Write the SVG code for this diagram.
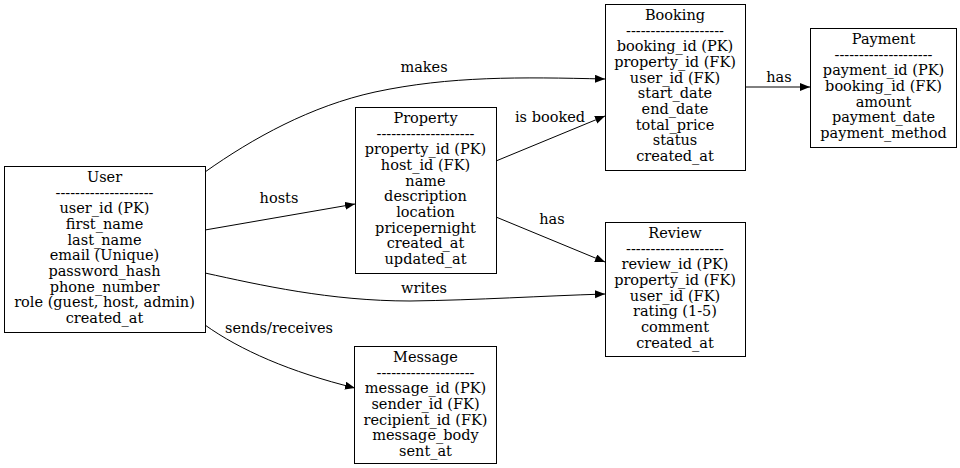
<svg xmlns="http://www.w3.org/2000/svg" width="960" height="468" viewBox="0 0 960 468">
<defs>
<style>
.box{fill:#fff;stroke:#000;stroke-width:1}
.t{font-family:"DejaVu Serif",serif;font-size:14.5px;text-anchor:middle;fill:#000}
.e{fill:none;stroke:#000;stroke-width:1}
</style>
<marker id="ah" markerUnits="userSpaceOnUse" markerWidth="11" markerHeight="9" refX="10" refY="4" orient="auto">
<path d="M0,0 L10,4 L0,8 Z" fill="#000"/>
</marker>
</defs>
<rect width="960" height="468" fill="#fff"/>
<g id="connectors">
<path class="e" d="M205,172 C253,138 311,106 375,92 C450,76 520,77 605,79" marker-end="url(#ah)"/>
<text class="t" x="424" y="72">makes</text>
<path class="e" d="M205,230 L355,204" marker-end="url(#ah)"/>
<text class="t" x="279" y="203">hosts</text>
<path class="e" d="M205,273 C260,285 330,301 410,301 C480,300 540,296 605,294" marker-end="url(#ah)"/>
<text class="t" x="424" y="293">writes</text>
<path class="e" d="M205,325 C240,350 290,372 355,388" marker-end="url(#ah)"/>
<text class="t" x="279" y="333">sends/receives</text>
<path class="e" d="M496,161 L605,116" marker-end="url(#ah)"/>
<text class="t" x="550" y="122">is booked</text>
<path class="e" d="M496,217 L605,262" marker-end="url(#ah)"/>
<text class="t" x="552" y="224">has</text>
<path class="e" d="M745,87 L810,87" marker-end="url(#ah)"/>
<text class="t" x="779" y="82">has</text>
</g>
<g id="User">
<rect class="box" x="4.5" y="166.5" width="201" height="166"/>
<text class="t" x="104.5" y="182">User</text>
<text class="t" x="104.5" y="197.7">--------------------</text>
<text class="t" x="104.5" y="213.3">user_id (PK)</text>
<text class="t" x="104.5" y="229">first_name</text>
<text class="t" x="104.5" y="244.7">last_name</text>
<text class="t" x="104.5" y="260.4">email (Unique)</text>
<text class="t" x="104.5" y="276">password_hash</text>
<text class="t" x="104.5" y="291.7">phone_number</text>
<text class="t" x="104.5" y="307.4">role (guest, host, admin)</text>
<text class="t" x="104.5" y="323">created_at</text>
</g>
<g id="Property">
<rect class="box" x="355.5" y="107.5" width="141" height="166"/>
<text class="t" x="425.5" y="123">Property</text>
<text class="t" x="425.5" y="138.7">--------------------</text>
<text class="t" x="425.5" y="154.3">property_id (PK)</text>
<text class="t" x="425.5" y="170">host_id (FK)</text>
<text class="t" x="425.5" y="185.7">name</text>
<text class="t" x="425.5" y="201.4">description</text>
<text class="t" x="425.5" y="217">location</text>
<text class="t" x="425.5" y="232.7">pricepernight</text>
<text class="t" x="425.5" y="248.4">created_at</text>
<text class="t" x="425.5" y="264">updated_at</text>
</g>
<g id="Booking">
<rect class="box" x="605.5" y="4.5" width="140" height="166"/>
<text class="t" x="675" y="20">Booking</text>
<text class="t" x="675" y="35.7">--------------------</text>
<text class="t" x="675" y="51.3">booking_id (PK)</text>
<text class="t" x="675" y="67">property_id (FK)</text>
<text class="t" x="675" y="82.7">user_id (FK)</text>
<text class="t" x="675" y="98.4">start_date</text>
<text class="t" x="675" y="114">end_date</text>
<text class="t" x="675" y="129.7">total_price</text>
<text class="t" x="675" y="145.4">status</text>
<text class="t" x="675" y="161">created_at</text>
</g>
<g id="Payment">
<rect class="box" x="810.5" y="28.5" width="146" height="119"/>
<text class="t" x="883.5" y="44">Payment</text>
<text class="t" x="883.5" y="59.7">--------------------</text>
<text class="t" x="883.5" y="75.3">payment_id (PK)</text>
<text class="t" x="883.5" y="91">booking_id (FK)</text>
<text class="t" x="883.5" y="106.7">amount</text>
<text class="t" x="883.5" y="122.4">payment_date</text>
<text class="t" x="883.5" y="138">payment_method</text>
</g>
<g id="Review">
<rect class="box" x="605.5" y="222.5" width="140" height="134"/>
<text class="t" x="675" y="238">Review</text>
<text class="t" x="675" y="253.7">--------------------</text>
<text class="t" x="675" y="269.3">review_id (PK)</text>
<text class="t" x="675" y="285">property_id (FK)</text>
<text class="t" x="675" y="300.7">user_id (FK)</text>
<text class="t" x="675" y="316.4">rating (1-5)</text>
<text class="t" x="675" y="332">comment</text>
<text class="t" x="675" y="347.7">created_at</text>
</g>
<g id="Message">
<rect class="box" x="354.5" y="346.5" width="142" height="117"/>
<text class="t" x="425.5" y="362">Message</text>
<text class="t" x="425.5" y="377.7">--------------------</text>
<text class="t" x="425.5" y="393.3">message_id (PK)</text>
<text class="t" x="425.5" y="409">sender_id (FK)</text>
<text class="t" x="425.5" y="424.7">recipient_id (FK)</text>
<text class="t" x="425.5" y="440.4">message_body</text>
<text class="t" x="425.5" y="456">sent_at</text>
</g>
</svg>
